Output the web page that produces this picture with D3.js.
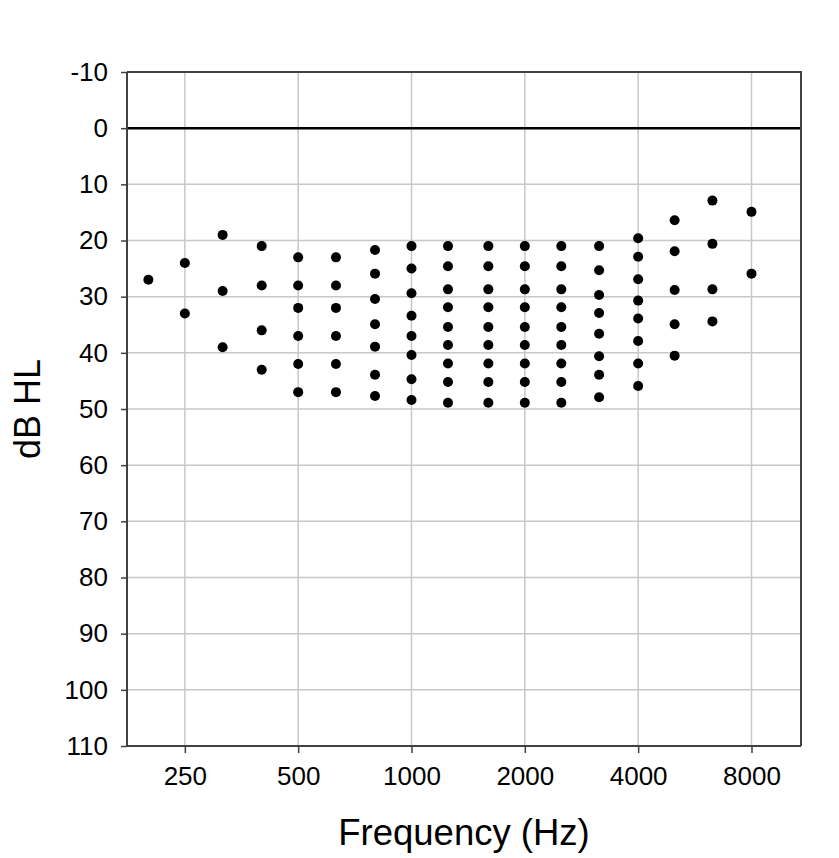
<!DOCTYPE html>
<html>
<head>
<meta charset="utf-8">
<script src="https://cdn.jsdelivr.net/npm/d3@7"></script>
<style>
  body { margin: 0; background: #fff; }
  svg text { font-family: "Liberation Sans", Arial, sans-serif; fill: #000; }
</style>
</head>
<body>
<svg id="chart" width="839" height="858"></svg>
<script>
// audiogram points, one column of thresholds per 1/3-octave band
var freqs = [200, 250, 315, 400, 500, 630, 800, 1000, 1250, 1600, 2000, 2500, 3150, 4000, 5000, 6300, 8000];
var levels = [
  [27],
  [24, 33],
  [19, 29, 39],
  [21, 28, 36, 43],
  [23, 28, 32, 37, 42, 47],
  [23, 28, 32, 37, 42, 47],
  [21.7, 25.9, 30.4, 34.9, 38.9, 43.9, 47.7],
  [21, 25, 29.4, 33.4, 37, 40.4, 44.7, 48.4],
  [21, 24.6, 28.7, 31.9, 35.4, 38.6, 41.9, 45.2, 48.9],
  [21, 24.6, 28.7, 31.9, 35.4, 38.6, 41.9, 45.2, 48.9],
  [21, 24.6, 28.7, 31.9, 35.4, 38.6, 41.9, 45.2, 48.9],
  [21, 24.6, 28.7, 31.9, 35.4, 38.6, 41.9, 45.2, 48.9],
  [21, 25.3, 29.7, 32.9, 36.6, 40.6, 43.9, 47.9],
  [19.6, 22.9, 26.9, 30.7, 33.9, 37.9, 41.9, 45.9],
  [16.4, 21.9, 28.8, 34.9, 40.5],
  [12.9, 20.6, 28.7, 34.4],
  [14.9, 25.9]
];
var xTicks = [250, 500, 1000, 2000, 4000, 8000];
var yTicks = [-10, 0, 10, 20, 30, 40, 50, 60, 70, 80, 90, 100, 110];

var points = [];
freqs.forEach(function(f, i) {
  levels[i].forEach(function(v) { points.push({f: f, db: v}); });
});

var W = 839, H = 858;
var margin = {top: 72, right: 38, bottom: 112, left: 127};
var w = W - margin.left - margin.right,
    h = H - margin.top - margin.bottom;

var svg = d3.select("#chart");
var g = svg.append("g").attr("transform", "translate(" + margin.left + "," + margin.top + ")");

var x = d3.scaleLog().domain([175.5, 10830]).range([0, w]);
var y = d3.scaleLinear().domain([-10, 110]).range([0, h]);

// grid
g.append("g").selectAll("line.gx")
  .data(xTicks).enter().append("line")
    .attr("x1", d => x(d)).attr("x2", d => x(d))
    .attr("y1", 0).attr("y2", h)
    .attr("stroke", "#c8c8c8").attr("stroke-width", 1.5);

g.append("g").selectAll("line.gy")
  .data(yTicks.filter(d => d > 0)).enter().append("line")
    .attr("x1", 0).attr("x2", w)
    .attr("y1", d => y(d)).attr("y2", d => y(d))
    .attr("stroke", "#c8c8c8").attr("stroke-width", 1.5);

// 0 dB reference line
g.append("line")
  .attr("x1", 0).attr("x2", w)
  .attr("y1", y(0)).attr("y2", y(0))
  .attr("stroke", "#000").attr("stroke-width", 2.5);

// frame top/right
g.append("path")
  .attr("d", "M0,0H" + w + "V" + h)
  .attr("fill", "none").attr("stroke", "#404040").attr("stroke-width", 2);

// axes
var xAxis = g.append("g").attr("transform", "translate(0," + h + ")")
  .call(d3.axisBottom(x).tickValues(xTicks).tickFormat(d => String(d)).tickSize(7).tickPadding(14).tickSizeOuter(0));
var yAxis = g.append("g")
  .call(d3.axisLeft(y).tickValues(yTicks).tickFormat(d => String(d)).tickSize(6).tickPadding(13).tickSizeOuter(0));

[xAxis, yAxis].forEach(function(a) {
  a.select(".domain").attr("stroke", "#404040").attr("stroke-width", 2);
  a.selectAll(".tick line").attr("stroke", "#404040").attr("stroke-width", 1.5);
  a.selectAll("text").attr("font-size", "26px").attr("fill", "#000")
    .style("font-family", "'Liberation Sans', Arial, sans-serif");
});
xAxis.select(".domain").attr("d", "M0,0H" + w);
yAxis.select(".domain").attr("d", "M0,0V" + h);

// points
g.append("g").selectAll("circle")
  .data(points).enter().append("circle")
    .attr("cx", d => x(d.f))
    .attr("cy", d => y(d.db))
    .attr("r", 5)
    .attr("fill", "#000");

// titles
svg.append("text")
  .attr("x", margin.left + w / 2)
  .attr("y", 845)
  .attr("text-anchor", "middle")
  .attr("font-size", "36.5px")
  .text("Frequency (Hz)");

svg.append("text")
  .attr("transform", "translate(40," + (margin.top + h / 2) + ") rotate(-90)")
  .attr("text-anchor", "middle")
  .attr("font-size", "36px")
  .text("dB HL");
</script>
</body>
</html>
